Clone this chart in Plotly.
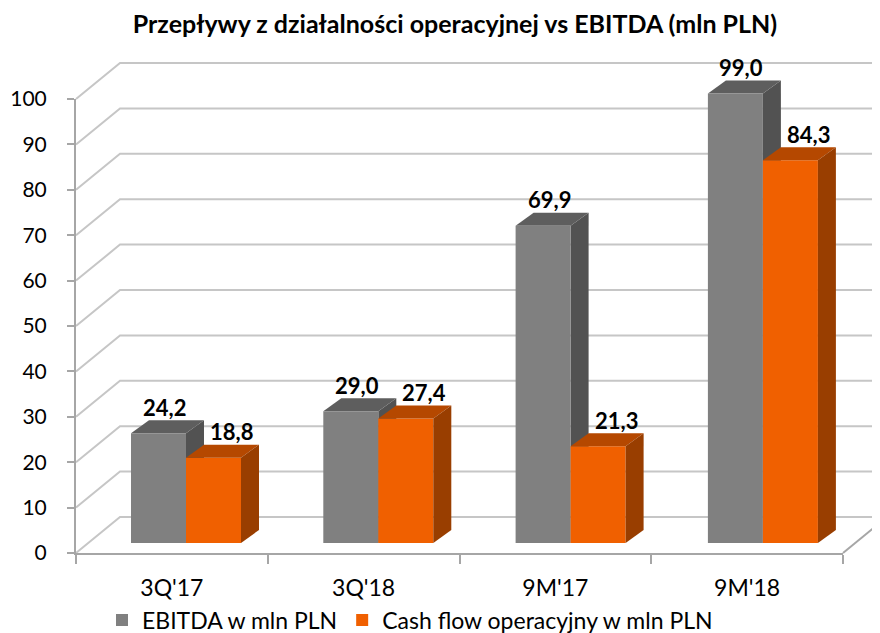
import plotly.graph_objects as go

# ---------------- data ----------------
categories = ["3Q'17", "3Q'18", "9M'17", "9M'18"]
ebitda = [24.2, 29.0, 69.9, 99.0]
cashflow = [18.8, 27.4, 21.3, 84.3]
y_ticks = [0, 10, 20, 30, 40, 50, 60, 70, 80, 90, 100]
series_names = ["EBITDA w mln PLN", "Cash flow operacyjny w mln PLN"]
title_text = "Przepływy z działalności operacyjnej vs EBITDA (mln PLN)"

# ---------------- styling / geometry (pixels) ----------------
W, H = 880, 633
PAGE_OFFSET = 8           # default body margin of the html page
FONT = "Lato"
PX_UNIT = 4.54            # pixels per value unit
FRONT_LEFT, FRONT_RIGHT, FRONT_BASE = 76, 843, 553
BAR_BASE = 543
CAT_W = 192.3
FIRST_CENTER = 186
WALL_DX, WALL_DY = 44, 36
BAR_DX, BAR_DY = 18, 13
BAR_W = 55 / CAT_W
Y_MAX_BARS = 115

GRAY, GRAY_TOP, GRAY_SIDE = "#808080", "#5E5E5E", "#525252"
ORANGE, ORANGE_TOP, ORANGE_SIDE = "#F06000", "#B54800", "#993E00"
GRID = "#C6C6C6"
AXIS = "#A6A6A6"


def px(x):
    return (x - PAGE_OFFSET) / W


def py(y):
    return 1 - (y - PAGE_OFFSET) / H


def fmt(v):
    return f"{v:.1f}".replace(".", ",")


xs = list(range(len(categories)))

fig = go.Figure()
fig.add_trace(go.Bar(x=xs, y=ebitda, name=series_names[0], marker=dict(color=GRAY, line=dict(width=0)),
                     width=BAR_W, offset=-BAR_W, hoverinfo="skip"))
fig.add_trace(go.Bar(x=xs, y=cashflow, name=series_names[1], marker=dict(color=ORANGE, line=dict(width=0)),
                     width=BAR_W, offset=0, hoverinfo="skip"))
# carrier for the front axes (separate subplot)
fig.add_trace(go.Scatter(x=[None], y=[None], xaxis="x2", yaxis="y2", showlegend=False, hoverinfo="skip"))

shapes = []
# back wall / left wall gridlines
for v in y_ticks:
    yf = FRONT_BASE - v * PX_UNIT
    shapes.append(dict(type="path", xref="paper", yref="paper", layer="below",
                       path=f"M{px(FRONT_LEFT)},{py(yf)} L{px(FRONT_LEFT + WALL_DX)},{py(yf - WALL_DY)} "
                            f"L{px(W + 60)},{py(yf - WALL_DY)}",
                       line=dict(color=GRID, width=2)))
# right edge of floor
shapes.append(dict(type="path", xref="paper", yref="paper", layer="below",
                   path=f"M{px(FRONT_RIGHT)},{py(FRONT_BASE)} L{px(FRONT_RIGHT + WALL_DX)},{py(FRONT_BASE - WALL_DY)}",
                   line=dict(color=AXIS, width=2)))

dxu = BAR_DX / CAT_W
dyu = BAR_DY / PX_UNIT
for k, (g, o) in enumerate(zip(ebitda, cashflow)):
    gl, gr = k - BAR_W, k
    ol, orr = k, k + BAR_W
    shapes.append(dict(type="path", xref="x", yref="y", layer="below", line=dict(width=0), fillcolor=GRAY_SIDE,
                       path=f"M{gr},0 L{gr},{g} L{gr + dxu},{g + dyu} L{gr + dxu},{dyu} Z"))
    shapes.append(dict(type="path", xref="x", yref="y", layer="below", line=dict(width=0), fillcolor=GRAY_TOP,
                       path=f"M{gl},{g} L{gr},{g} L{gr + dxu},{g + dyu} L{gl + dxu},{g + dyu} Z"))
    shapes.append(dict(type="path", xref="x", yref="y", layer="above", line=dict(width=0), fillcolor=ORANGE_TOP,
                       path=f"M{ol},{o} L{orr},{o} L{orr + dxu},{o + dyu} L{ol + dxu},{o + dyu} Z"))
    shapes.append(dict(type="path", xref="x", yref="y", layer="above", line=dict(width=0), fillcolor=ORANGE_SIDE,
                       path=f"M{orr},0 L{orr},{o} L{orr + dxu},{o + dyu} L{orr + dxu},{dyu} Z"))

annotations = []
for k, (g, o) in enumerate(zip(ebitda, cashflow)):
    annotations.append(dict(x=k - BAR_W / 2, y=g, xref="x", yref="y", text=f"<b>{fmt(g)}</b>", showarrow=False,
                            xanchor="center", yanchor="middle", yshift=26, xshift=6,
                            font=dict(family=FONT, size=22, color="black")))
    annotations.append(dict(x=k + BAR_W / 2, y=o, xref="x", yref="y", text=f"<b>{fmt(o)}</b>", showarrow=False,
                            xanchor="center", yanchor="middle", yshift=26, xshift=18,
                            font=dict(family=FONT, size=22, color="black")))

fig.update_layout(
    width=W, height=H, autosize=False,
    margin=dict(l=0, r=0, t=0, b=0, pad=0, autoexpand=False),
    paper_bgcolor="white", plot_bgcolor="rgba(0,0,0,0)",
    font=dict(family=FONT, color="black"),
    title=dict(text=title_text, x=px(455), y=py(24), xanchor="center", yanchor="middle", automargin=False,
               font=dict(family=FONT, size=25, color="black", weight="bold")),
    xaxis=dict(domain=[px(FIRST_CENTER - CAT_W / 2), px(FIRST_CENTER + 3.5 * CAT_W)], range=[-0.5, 3.5],
               anchor="y", showgrid=False, zeroline=False, showline=False, showticklabels=False, ticks=""),
    yaxis=dict(domain=[py(BAR_BASE), py(BAR_BASE - Y_MAX_BARS * PX_UNIT)], range=[0, Y_MAX_BARS],
               anchor="x", showgrid=False, zeroline=False, showline=False, showticklabels=False, ticks=""),
    xaxis2=dict(anchor="y2", domain=[px(FRONT_LEFT), px(FRONT_RIGHT)], range=[-0.5, 3.5],
                tickmode="array", tickvals=xs, ticktext=categories, ticks="",
                minor=dict(tickmode="array", tickvals=[-0.5, 0.5, 1.5, 2.5, 3.5], ticks="outside",
                           ticklen=9, tickwidth=2, tickcolor=AXIS, showgrid=False),
                showline=True, linecolor=AXIS, linewidth=2, showgrid=False, zeroline=False,
                tickfont=dict(family=FONT, size=23, color="black"), ticklabelstandoff=13),
    yaxis2=dict(anchor="x2", side="left",
                domain=[py(FRONT_BASE), py(FRONT_BASE - 100 * PX_UNIT)], range=[0, 100],
                tickmode="array", tickvals=y_ticks, ticks="outside", ticklen=7, tickwidth=2, tickcolor=AXIS,
                showline=True, linecolor=AXIS, linewidth=2, showgrid=False, zeroline=False,
                tickfont=dict(family=FONT, size=21, color="black"), ticklabelstandoff=16),
    barmode="overlay",
    showlegend=True,
    legend=dict(orientation="h", x=px(102), y=py(620), xanchor="left", yanchor="middle",
                font=dict(family=FONT, size=23, color="black"), bgcolor="rgba(0,0,0,0)"),
    shapes=shapes, annotations=annotations,
)

fig.write_html("out.html")
